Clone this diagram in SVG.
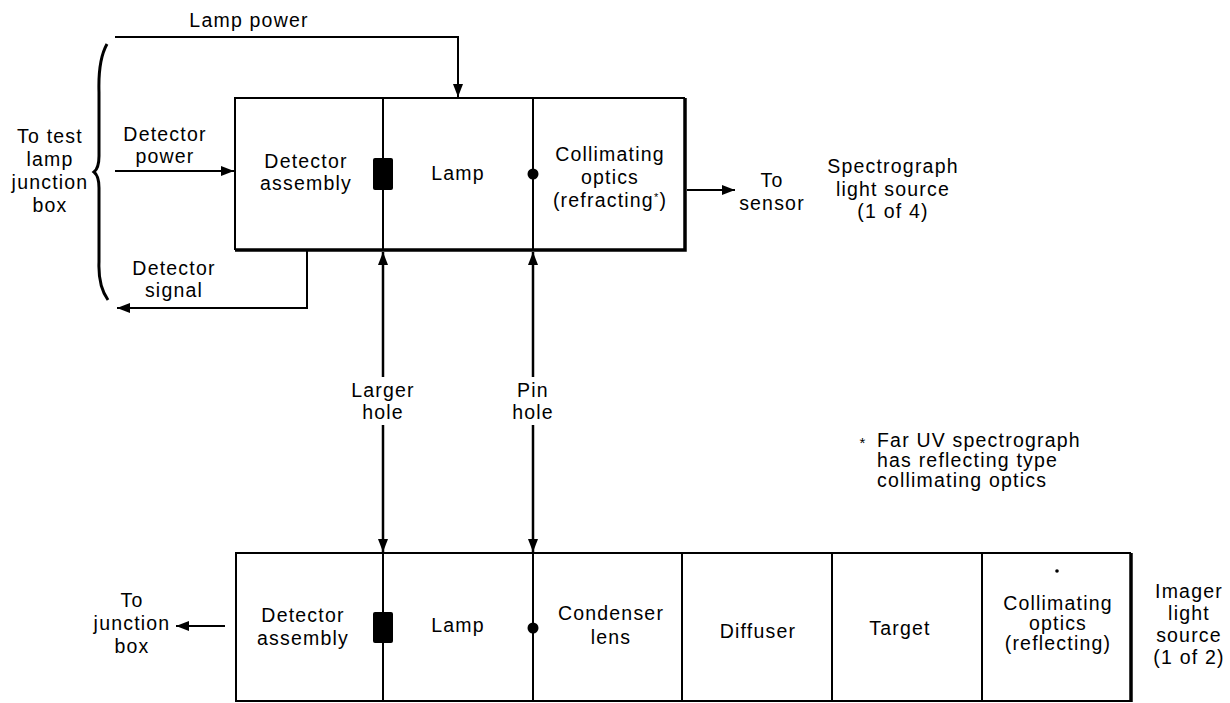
<svg xmlns="http://www.w3.org/2000/svg" width="1230" height="703" viewBox="0 0 1230 703">
<defs>
<style>
text{font-family:"Liberation Sans",Arial,sans-serif;font-size:19.5px;letter-spacing:1.2px;fill:#000;text-anchor:middle}
.ln{fill:none;stroke:#000;stroke-width:2}
.thk{fill:none;stroke:#000;stroke-width:3.5}
.arr{fill:none;stroke:#000;stroke-width:2.5}
.blk{fill:#000}
</style>
<marker id="ah" viewBox="0 0 13 10" refX="13" refY="5" markerWidth="13" markerHeight="10" markerUnits="userSpaceOnUse" orient="auto-start-reverse">
<path d="M0,0 L13,5 L0,10 z" fill="#000"/>
</marker>
</defs>
<rect width="1230" height="703" fill="#fff"/>

<g id="connectors">
<path id="lamp-power" class="ln" d="M115,37 H458 V97" marker-end="url(#ah)"/>
<path id="detector-power" class="ln" d="M115,171 H234" marker-end="url(#ah)"/>
<path id="detector-signal" class="ln" d="M307,251 V308 H117" marker-end="url(#ah)"/>
<path id="to-sensor" class="ln" d="M687,190 H735" marker-end="url(#ah)"/>
<path id="to-junction" class="ln" d="M225,626 H176" marker-end="url(#ah)"/>
<path id="larger-hole-up" class="arr" d="M383,377 V252" marker-end="url(#ah)"/>
<path id="larger-hole-down" class="arr" d="M383,425 V552" marker-end="url(#ah)"/>
<path id="pin-hole-up" class="arr" d="M533,377 V252" marker-end="url(#ah)"/>
<path id="pin-hole-down" class="arr" d="M533,425 V552" marker-end="url(#ah)"/>
</g>

<g id="brace">
<path d="M107,44 Q98,60 99,92 L99,156 Q99,168 94,172 Q99,176 99,188 L99,262 Q98,286 108,300" fill="none" stroke="#000" stroke-width="3"/>
<text x="50" y="143">To test</text>
<text x="50" y="166">lamp</text>
<text x="50" y="189">junction</text>
<text x="50" y="212">box</text>
</g>

<g id="labels">
<text x="249" y="27">Lamp power</text>
<text x="165" y="141">Detector</text>
<text x="165" y="163">power</text>
<text x="174" y="275">Detector</text>
<text x="174" y="297">signal</text>
<text x="383" y="397">Larger</text>
<text x="383" y="419">hole</text>
<text x="533" y="397">Pin</text>
<text x="533" y="419">hole</text>
<text x="772" y="187">To</text>
<text x="772" y="210">sensor</text>
<text x="132" y="607">To</text>
<text x="132" y="630">junction</text>
<text x="132" y="653">box</text>
<text x="893" y="173">Spectrograph</text>
<text x="893" y="196">light source</text>
<text x="893" y="218">(1 of 4)</text>
<text x="1189" y="598">Imager</text>
<text x="1189" y="620">light</text>
<text x="1189" y="642">source</text>
<text x="1189" y="664">(1 of 2)</text>
<text x="863" y="448" style="font-size:15px">*</text>
<text x="877" y="447" style="text-anchor:start">Far UV spectrograph</text>
<text x="877" y="467" style="text-anchor:start">has reflecting type</text>
<text x="877" y="487" style="text-anchor:start">collimating optics</text>
</g>

<g id="spectrograph-source">
<path class="ln" d="M685,98 H235 V250"/>
<path class="thk" d="M235,250 H685 V98"/>
<g id="s-detector">
<text x="306" y="168">Detector</text>
<text x="306" y="190">assembly</text>
</g>
<g id="s-lamp">
<line class="ln" x1="383" y1="98" x2="383" y2="250"/>
<rect class="blk" x="373" y="158" width="20" height="32" rx="2"/>
<text x="458" y="180">Lamp</text>
</g>
<g id="s-collimating">
<line class="ln" x1="533" y1="98" x2="533" y2="250"/>
<circle class="blk" cx="533" cy="174" r="5.5"/>
<text x="610" y="161">Collimating</text>
<text x="610" y="184">optics</text>
<text x="610" y="207">(refracting<tspan dy="-6" style="font-size:11px">*</tspan><tspan dy="6">)</tspan></text>
</g>
</g>

<g id="imager-source">
<path class="ln" d="M1131,553 H236 V701 H1131"/>
<path class="thk" d="M1131,553 V702"/>
<g id="i-detector">
<text x="303" y="622">Detector</text>
<text x="303" y="645">assembly</text>
</g>
<g id="i-lamp">
<line class="ln" x1="383" y1="553" x2="383" y2="702"/>
<rect class="blk" x="373" y="612" width="20" height="31" rx="2"/>
<text x="458" y="632">Lamp</text>
</g>
<g id="i-condenser">
<line class="ln" x1="533" y1="553" x2="533" y2="702"/>
<circle class="blk" cx="533" cy="628" r="5.5"/>
<text x="611" y="620">Condenser</text>
<text x="611" y="644">lens</text>
</g>
<g id="i-diffuser">
<line class="ln" x1="682" y1="553" x2="682" y2="702"/>
<text x="758" y="638">Diffuser</text>
</g>
<g id="i-target">
<line class="ln" x1="832" y1="553" x2="832" y2="702"/>
<text x="900" y="635">Target</text>
</g>
<g id="i-collimating">
<line class="ln" x1="982" y1="553" x2="982" y2="702"/>
<circle class="blk" cx="1057" cy="571" r="1.8"/>
<text x="1058" y="610">Collimating</text>
<text x="1058" y="630">optics</text>
<text x="1058" y="650">(reflecting)</text>
</g>
</g>
</svg>
